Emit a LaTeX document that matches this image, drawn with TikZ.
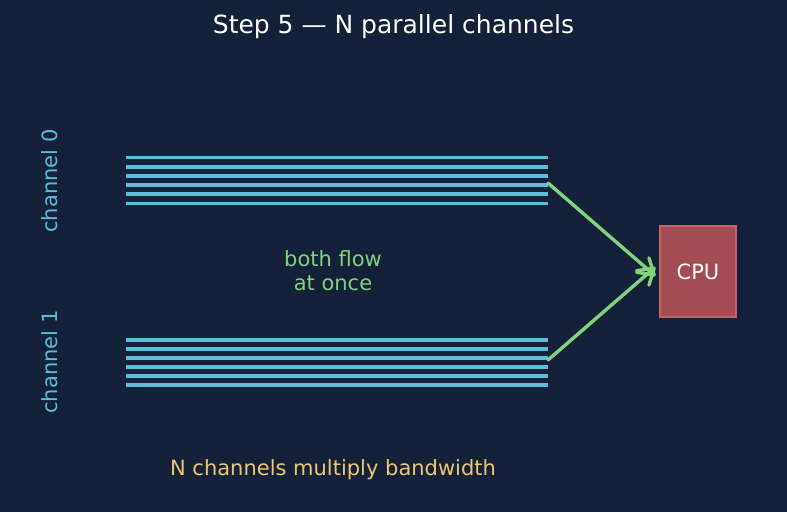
\documentclass[tikz,border=0pt]{standalone}
\usepackage{fontspec}
\setmainfont{DejaVu Sans}
\usetikzlibrary{arrows.meta}
\definecolor{bgnavy}{HTML}{152039}
\definecolor{wirecyan}{HTML}{5BBCDC}
\definecolor{flowgreen}{HTML}{80D27C}
\definecolor{cpured}{HTML}{A34C56}
\definecolor{cpuedge}{HTML}{C4626C}
\definecolor{noteyellow}{HTML}{E8C872}
\begin{document}
\begin{tikzpicture}[x=1pt, y=-1pt, every node/.style={font=\fontsize{21}{24}\selectfont},
  wire/.style={wirecyan, line width=3.8pt},
  flow/.style={flowgreen, line width=3.4pt, line cap=round, -{Straight Barb[length=15pt,width=19pt,line width=3.4pt,round]}}]
  \fill[bgnavy] (0,0) rectangle (787,512);
  \node[text=white,font=\fontsize{25}{28}\selectfont] (title) at (393.5,27) {Step 5 — N parallel channels};
  % channel 0 wires
  \foreach \y in {157.5,166.7,175.9,185.1,194.3,203.5}
    \draw[wire] (126,\y) -- (548,\y);
  % channel 1 wires
  \foreach \y in {339.7,348.7,357.7,366.7,375.7,384.7}
    \draw[wire] (126,\y) -- (548,\y);
  \node[text=wirecyan,rotate=90] (lab0) at (50,181) {channel 0};
  \node[text=wirecyan,rotate=90] (lab1) at (50,362) {channel 1};
  \node[draw=cpuedge,fill=cpured,line width=1.2pt,minimum width=76pt,minimum height=91pt,text=white] (cpu) at (698,271.5) {CPU};
  \coordinate (out0) at (548,183);
  \coordinate (out1) at (548,360);
  \draw[flow] (out0) -- ([xshift=-4pt,yshift=-4.5pt]cpu.west);
  \draw[flow] (out1) -- ([xshift=-4pt,yshift=4.5pt]cpu.west);
  \node[text=flowgreen,align=center] (both) at (333,271) {both flow\\at once};
  \node[text=noteyellow] (note) at (333,470) {N channels multiply bandwidth};
\end{tikzpicture}
\end{document}
